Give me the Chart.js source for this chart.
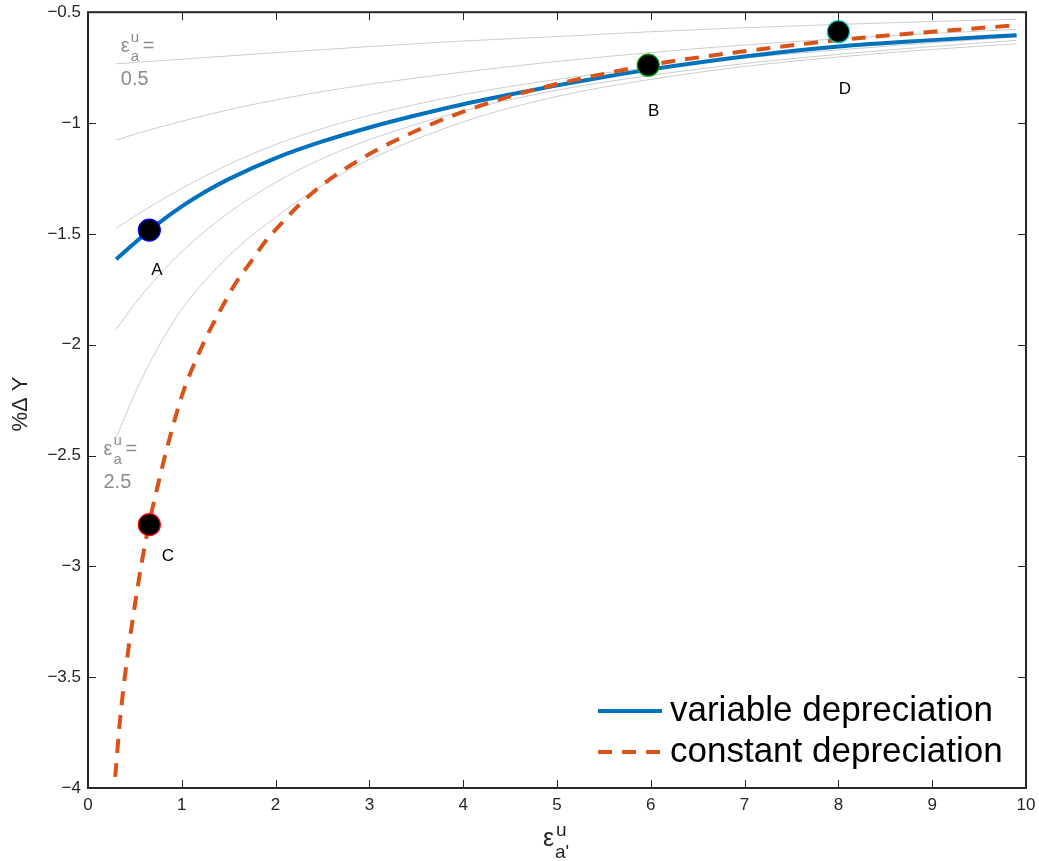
<!DOCTYPE html>
<html><head><meta charset="utf-8">
<script src="https://cdn.jsdelivr.net/npm/chart.js@4"></script>
<style>html,body{margin:0;padding:0;background:#fff}canvas{display:block}</style>
</head><body>
<canvas id="c" width="1039" height="861"></canvas>
<script>
// ---- data ----
const blueX = [0.3,0.5,0.75,1,1.25,1.5,2,2.5,3,3.5,4,4.5,5,5.5,6,7,8,9,9.9];
const blueY = [-1.615,-1.540,-1.453,-1.376,-1.310,-1.253,-1.158,-1.083,-1.020,-0.965,-0.915,-0.871,-0.830,-0.792,-0.758,-0.700,-0.655,-0.626,-0.604];

const redX = [0.29,0.34,0.41,0.48,0.57,0.65,0.75,0.84,0.93,1.03,1.16,1.28,1.43,1.57,1.73,1.88,2.08,2.25,2.5,3,3.5,4,4.5,5,5.5,6,7,8,9,9.9];
const redY = [-3.95,-3.70,-3.44,-3.23,-2.99,-2.81,-2.625,-2.47,-2.33,-2.195,-2.06,-1.95,-1.83,-1.725,-1.63,-1.54,-1.445,-1.37,-1.278,-1.14,-1.035,-0.949,-0.88,-0.824,-0.778,-0.737,-0.676,-0.626,-0.588,-0.559];

const grayX  = [0.3,0.5,0.75,1,1.5,2,2.5,3,4,5,6,7,8,9,9.9];
const gray05 = [-0.733,-0.727,-0.719,-0.712,-0.697,-0.683,-0.669,-0.655,-0.630,-0.610,-0.588,-0.570,-0.555,-0.542,-0.532];
const gray10 = [-1.077,-1.050,-1.020,-0.992,-0.940,-0.896,-0.858,-0.825,-0.770,-0.722,-0.682,-0.648,-0.620,-0.596,-0.577];
const gray15 = [-1.475,-1.420,-1.355,-1.295,-1.187,-1.097,-1.025,-0.965,-0.872,-0.803,-0.750,-0.706,-0.670,-0.638,-0.612];
const gray20 = [-1.931,-1.815,-1.690,-1.580,-1.405,-1.268,-1.160,-1.075,-0.945,-0.852,-0.785,-0.732,-0.690,-0.655,-0.627];
const gray25 = [-2.420,-2.220,-2.010,-1.840,-1.600,-1.425,-1.280,-1.165,-0.995,-0.880,-0.803,-0.745,-0.702,-0.668,-0.643];

const markerNames  = ['A','B','C','D'];
const markerX      = [0.654, 5.973, 0.654, 8.0];
const markerY      = [-1.483, -0.739, -2.812, -0.588];
const markerLabelX = [0.736, 6.03, 0.853, 8.07];
const markerLabelY = [-1.663, -0.946, -2.955, -0.846];

const isoLabels = ['0.5', '2.5'];
const isoLabelX = [0.35, 0.165];
const isoLabelY = [-0.678, -2.499];

const xTicks = [0,1,2,3,4,5,6,7,8,9,10];
const yTicks = [-4,-3.5,-3,-2.5,-2,-1.5,-1,-0.5];

const seriesNames = ['variable depreciation', 'constant depreciation'];

// ---- styles ----
const F = '"Liberation Sans", Arial, Helvetica, sans-serif';
const AX = '#262626';
const BLUE = '#0072BD', RED = '#D95319', GRAY = '#cccccc', GTXT = '#8c8c8c';
const markerBorder = ['#0000ff', '#00a000', '#ff0000', '#00bfbf'];

const pts = (xs, ys) => xs.map((v, i) => ({ x: v, y: ys[i] }));
const grayDs = (ys) => ({ data: pts(grayX, ys), borderColor: GRAY, borderWidth: 1, pointRadius: 0,
  cubicInterpolationMode: 'monotone', order: 3, fill: false });

const decor = {
  id: 'decor',
  afterDraw(chart) {
    const { ctx, chartArea: a, scales } = chart;
    const x = scales.x, y = scales.y;
    ctx.save();
    // inward ticks on all four sides
    ctx.strokeStyle = AX; ctx.lineWidth = 1;
    const T = 8;
    ctx.beginPath();
    xTicks.forEach(v => {
      const p = Math.round(x.getPixelForValue(v)) + 0.5;
      ctx.moveTo(p, a.bottom); ctx.lineTo(p, a.bottom - T);
      ctx.moveTo(p, a.top); ctx.lineTo(p, a.top + T);
    });
    yTicks.forEach(v => {
      const p = Math.round(y.getPixelForValue(v)) + 0.5;
      ctx.moveTo(a.left, p); ctx.lineTo(a.left + T, p);
      ctx.moveTo(a.right, p); ctx.lineTo(a.right - T, p);
    });
    ctx.stroke();
    ctx.lineWidth = 2;
    ctx.strokeRect(a.left, a.top, a.right - a.left, a.bottom - a.top);

    // marker labels
    ctx.fillStyle = '#000'; ctx.font = '17px ' + F;
    ctx.textAlign = 'center'; ctx.textBaseline = 'middle';
    markerNames.forEach((n, i) => {
      ctx.fillText(n, x.getPixelForValue(markerLabelX[i]), y.getPixelForValue(markerLabelY[i]));
    });

    // iso-curve labels
    ctx.fillStyle = GTXT; ctx.textAlign = 'left'; ctx.textBaseline = 'alphabetic';
    isoLabels.forEach((lab, i) => {
      const px = x.getPixelForValue(isoLabelX[i]);
      const py = y.getPixelForValue(isoLabelY[i]);
      ctx.font = '20px ' + F; ctx.fillText('\u03b5', px, py);
      ctx.font = '15px ' + F; ctx.fillText('u', px + 10, py - 10);
      ctx.fillText('a', px + 10, py + 9);
      ctx.font = '20px ' + F; ctx.fillText('=', px + 22, py);
      ctx.fillText(lab, px, py + 33);
    });

    // axis titles
    ctx.fillStyle = AX;
    const cx = (a.left + a.right) / 2;
    ctx.font = '25px ' + F; ctx.fillText('\u03b5', cx - 14, 846);
    ctx.font = '19px ' + F; ctx.fillText('u', cx - 1, 836);
    ctx.fillText("a'", cx - 2, 858);

    ctx.save();
    ctx.translate(27, (a.top + a.bottom) / 2 + 4);
    ctx.rotate(-Math.PI / 2);
    ctx.textAlign = 'center'; ctx.textBaseline = 'alphabetic';
    ctx.font = '22px ' + F;
    ctx.fillText('%\u0394 Y', 0, 0);
    ctx.restore();

    // legend
    ctx.lineWidth = 4;
    ctx.strokeStyle = BLUE; ctx.setLineDash([]);
    ctx.beginPath(); ctx.moveTo(598, 711); ctx.lineTo(662, 711); ctx.stroke();
    ctx.strokeStyle = RED; ctx.setLineDash([14, 10]);
    ctx.beginPath(); ctx.moveTo(598, 752); ctx.lineTo(662, 752); ctx.stroke();
    ctx.setLineDash([]);
    ctx.fillStyle = '#000'; ctx.font = '35px ' + F; ctx.textBaseline = 'middle';
    ctx.fillText(seriesNames[0], 670, 711);
    ctx.fillText(seriesNames[1], 670, 752);
    ctx.restore();
  }
};

const noPad = (s) => { s.paddingTop = 0; s.paddingBottom = 0; s.paddingLeft = 0; s.paddingRight = 0; };

new Chart(document.getElementById('c'), {
  type: 'line',
  data: {
    datasets: [
      { data: pts(markerX, markerY), showLine: false, pointRadius: 11, pointHoverRadius: 11,
        pointBackgroundColor: '#000', pointBorderColor: markerBorder, pointBorderWidth: 1.2, order: 0 },
      { data: pts(redX, redY), borderColor: RED, borderWidth: 4, borderDash: [14, 10],
        pointRadius: 0, cubicInterpolationMode: 'monotone', order: 1, fill: false },
      { data: pts(blueX, blueY), borderColor: BLUE, borderWidth: 4,
        pointRadius: 0, cubicInterpolationMode: 'monotone', order: 2, fill: false },
      grayDs(gray05), grayDs(gray10), grayDs(gray15), grayDs(gray20), grayDs(gray25)
    ]
  },
  options: {
    responsive: false, animation: false, devicePixelRatio: 1,
    layout: { padding: { left: 0, right: 13, top: 12, bottom: 0 } },
    plugins: { legend: { display: false }, tooltip: { enabled: false } },
    events: [],
    scales: {
      x: { type: 'linear', min: 0, max: 10,
        afterBuildTicks(s) { s.ticks = xTicks.map(v => ({ value: v })); },
        ticks: { padding: 7, color: AX, font: { family: F, size: 17 }, maxRotation: 0 },
        grid: { display: false, drawTicks: false }, border: { display: false },
        afterFit(s) { s.height = 73; noPad(s); } },
      y: { type: 'linear', min: -4, max: -0.5,
        afterBuildTicks(s) { s.ticks = yTicks.map(v => ({ value: v })); },
        ticks: { padding: 7, color: AX, font: { family: F, size: 17 },
          callback: v => String(v).replace('-', '\u2212') },
        grid: { display: false, drawTicks: false }, border: { display: false },
        afterFit(s) { s.width = 88; noPad(s); } }
    }
  },
  plugins: [decor]
});
</script>
</body></html>
